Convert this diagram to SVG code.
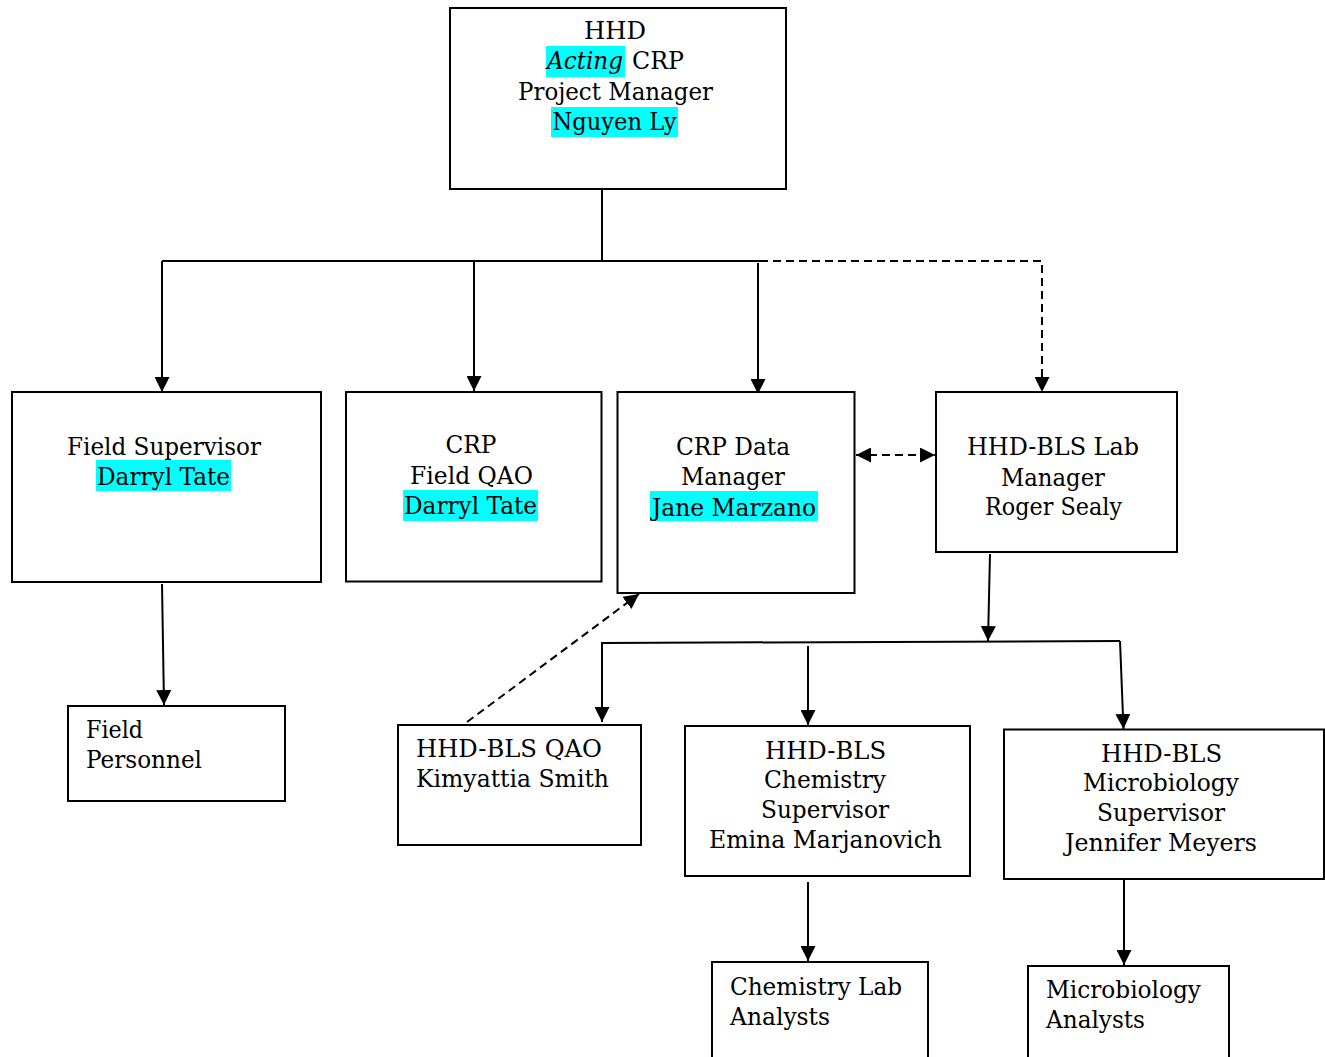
<svg xmlns="http://www.w3.org/2000/svg" width="1325" height="1057" viewBox="0 0 1325 1057">
<style>
.box{fill:#fff;stroke:#000;stroke-width:2}
.hl{fill:#00ffff}
.t{font-family:"DejaVu Serif","Liberation Serif",serif;font-size:24px;fill:#000}
.c{text-anchor:middle}
.ln{fill:none;stroke:#000;stroke-width:2}
.dash{stroke-dasharray:8,5}
</style>
<defs>
<marker id="ah" markerUnits="userSpaceOnUse" markerWidth="15" markerHeight="15" viewBox="0 0 15 15" refX="15" refY="7.5" orient="auto-start-reverse">
<path d="M0,0 L15,7.5 L0,15 z" fill="#000"/>
</marker>
</defs>
<rect width="1325" height="1057" fill="#fff"/>

<g id="connectors">
<path class="ln" d="M602,189 L602,261"/>
<path class="ln" d="M162,261 L760,261"/>
<path class="ln dash" d="M760,261 L1042,261 L1042,392" marker-end="url(#ah)"/>
<path class="ln" d="M162,261 L162,392" marker-end="url(#ah)"/>
<path class="ln" d="M474,261 L474,391" marker-end="url(#ah)"/>
<path class="ln" d="M758,263 L758,394" marker-end="url(#ah)"/>
<path class="ln dash" d="M856,455 L935,455" marker-start="url(#ah)" marker-end="url(#ah)"/>
<path class="ln" d="M162,584 L164,705" marker-end="url(#ah)"/>
<path class="ln" d="M990,554 L988,641" marker-end="url(#ah)"/>
<path class="ln" d="M1120,641 L602,643 L602,722" marker-end="url(#ah)"/>
<path class="ln" d="M1120,641 L1123.5,729" marker-end="url(#ah)"/>
<path class="ln" d="M808,646 L808,725" marker-end="url(#ah)"/>
<path class="ln dash" d="M467,722 L639,594" marker-end="url(#ah)"/>
<path class="ln" d="M808,882 L808,961" marker-end="url(#ah)"/>
<path class="ln" d="M1124,880 L1124,965" marker-end="url(#ah)"/>
</g>

<g id="node-pm">
<rect class="box" x="450" y="8" width="336" height="181"/>
<rect class="hl" x="546" y="46" width="79" height="31"/>
<rect class="hl" x="551" y="107" width="127" height="30"/>
<text class="t c" x="615" y="38.5" textLength="62" lengthAdjust="spacingAndGlyphs">HHD</text>
<text class="t" x="547" y="69" textLength="76" lengthAdjust="spacingAndGlyphs" font-style="italic">Acting</text>
<text class="t" x="632" y="69" textLength="52" lengthAdjust="spacingAndGlyphs">CRP</text>
<text class="t c" x="615.5" y="99.5" textLength="195" lengthAdjust="spacingAndGlyphs">Project Manager</text>
<text class="t c" x="614.5" y="130" textLength="124" lengthAdjust="spacingAndGlyphs">Nguyen Ly</text>
</g>

<g id="node-field-supervisor">
<rect class="box" x="12" y="392" width="309" height="190"/>
<rect class="hl" x="96" y="460" width="135" height="31"/>
<text class="t c" x="164" y="455" textLength="194" lengthAdjust="spacingAndGlyphs">Field Supervisor</text>
<text class="t c" x="163.5" y="485" textLength="133" lengthAdjust="spacingAndGlyphs">Darryl Tate</text>
</g>

<g id="node-field-qao">
<rect class="box" x="346" y="392" width="255.5" height="189.5"/>
<rect class="hl" x="403" y="490" width="135" height="31"/>
<text class="t c" x="471" y="453" textLength="51" lengthAdjust="spacingAndGlyphs">CRP</text>
<text class="t c" x="471.5" y="484" textLength="123" lengthAdjust="spacingAndGlyphs">Field QAO</text>
<text class="t c" x="470.5" y="514" textLength="133" lengthAdjust="spacingAndGlyphs">Darryl Tate</text>
</g>

<g id="node-data-manager">
<rect class="box" x="617.5" y="392" width="237" height="201"/>
<rect class="hl" x="650" y="491" width="168" height="30"/>
<text class="t c" x="733" y="455" textLength="114" lengthAdjust="spacingAndGlyphs">CRP Data</text>
<text class="t c" x="733" y="485" textLength="104" lengthAdjust="spacingAndGlyphs">Manager</text>
<text class="t c" x="734" y="516" textLength="164" lengthAdjust="spacingAndGlyphs">Jane Marzano</text>
</g>

<g id="node-lab-manager">
<rect class="box" x="936" y="392" width="241" height="160"/>
<text class="t c" x="1053" y="455" textLength="172" lengthAdjust="spacingAndGlyphs">HHD-BLS Lab</text>
<text class="t c" x="1053" y="486" textLength="104" lengthAdjust="spacingAndGlyphs">Manager</text>
<text class="t c" x="1053.5" y="515" textLength="137" lengthAdjust="spacingAndGlyphs">Roger Sealy</text>
</g>

<g id="node-field-personnel">
<rect class="box" x="68" y="706" width="217" height="95"/>
<text class="t" x="86" y="738" textLength="57" lengthAdjust="spacingAndGlyphs">Field</text>
<text class="t" x="86" y="768" textLength="116" lengthAdjust="spacingAndGlyphs">Personnel</text>
</g>

<g id="node-bls-qao">
<rect class="box" x="398" y="725" width="243" height="120"/>
<text class="t" x="416" y="757" textLength="186" lengthAdjust="spacingAndGlyphs">HHD-BLS QAO</text>
<text class="t" x="416" y="787" textLength="193" lengthAdjust="spacingAndGlyphs">Kimyattia Smith</text>
</g>

<g id="node-chem-supervisor">
<rect class="box" x="685" y="726" width="285" height="150"/>
<text class="t c" x="825.5" y="759" textLength="121" lengthAdjust="spacingAndGlyphs">HHD-BLS</text>
<text class="t c" x="825" y="788" textLength="122" lengthAdjust="spacingAndGlyphs">Chemistry</text>
<text class="t c" x="825" y="818" textLength="128" lengthAdjust="spacingAndGlyphs">Supervisor</text>
<text class="t c" x="825.5" y="848" textLength="233" lengthAdjust="spacingAndGlyphs">Emina Marjanovich</text>
</g>

<g id="node-micro-supervisor">
<rect class="box" x="1004" y="729.5" width="320" height="149.5"/>
<text class="t c" x="1161.5" y="762" textLength="121" lengthAdjust="spacingAndGlyphs">HHD-BLS</text>
<text class="t c" x="1161" y="791" textLength="156" lengthAdjust="spacingAndGlyphs">Microbiology</text>
<text class="t c" x="1161" y="821" textLength="128" lengthAdjust="spacingAndGlyphs">Supervisor</text>
<text class="t c" x="1161" y="851" textLength="192" lengthAdjust="spacingAndGlyphs">Jennifer Meyers</text>
</g>

<g id="node-chem-analysts">
<rect class="box" x="712" y="962" width="216" height="100"/>
<text class="t" x="730" y="995" textLength="172" lengthAdjust="spacingAndGlyphs">Chemistry Lab</text>
<text class="t" x="730" y="1025" textLength="100" lengthAdjust="spacingAndGlyphs">Analysts</text>
</g>

<g id="node-micro-analysts">
<rect class="box" x="1028" y="966" width="201" height="100"/>
<text class="t" x="1046" y="998" textLength="155" lengthAdjust="spacingAndGlyphs">Microbiology</text>
<text class="t" x="1046" y="1028" textLength="99" lengthAdjust="spacingAndGlyphs">Analysts</text>
</g>
</svg>
